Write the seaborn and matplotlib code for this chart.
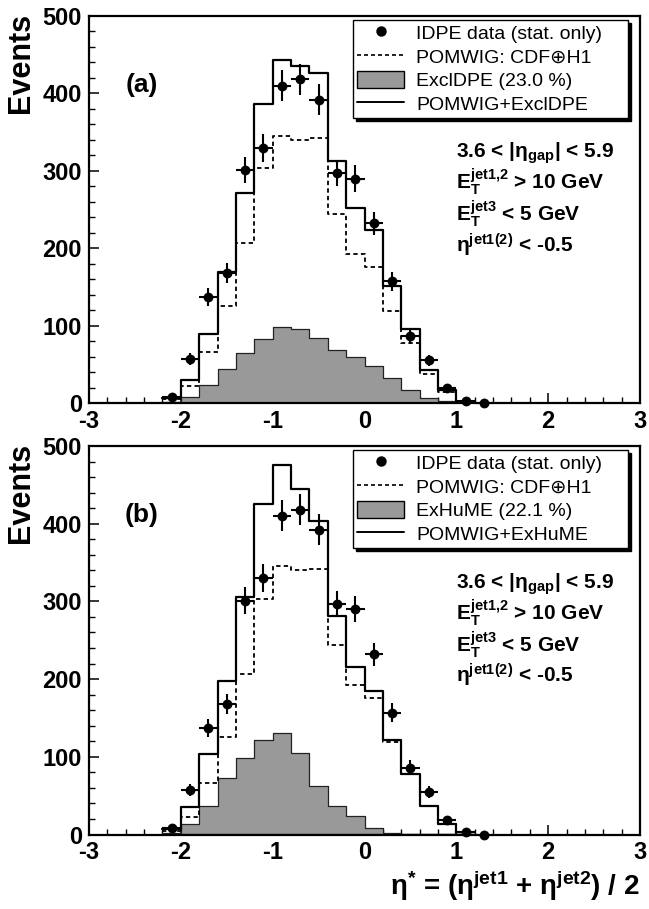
import numpy as np
import pandas as pd
import matplotlib
matplotlib.use("Agg")
import matplotlib.pyplot as plt
import seaborn as sns
from matplotlib.lines import Line2D
from matplotlib.patches import Patch
from matplotlib.ticker import MultipleLocator

# ---------------- data ----------------
bin_edges = [-2.2, -2.0, -1.8, -1.6, -1.4, -1.2, -1.0, -0.8, -0.6, -0.4,
             -0.2, 0.0, 0.2, 0.4, 0.6, 0.8, 1.0, 1.2]
bin_centers = [-2.1, -1.9, -1.7, -1.5, -1.3, -1.1, -0.9, -0.7, -0.5, -0.3,
               -0.1, 0.1, 0.3, 0.5, 0.7, 0.9, 1.1]
pomwig = [5, 22, 66, 125, 207, 303, 345, 340, 342, 244,
          192, 176, 119, 78, 37, 14, 0]
excl_dpe = [1, 8, 23, 44, 64, 83, 98, 95, 84, 69,
            60, 48, 32, 17, 6, 3, 0]
exhume = [1.5, 14, 37, 73, 99, 122, 131, 105, 62, 37,
          24, 9, 2, 0, 0, 0, 0]

data_x = [-2.1, -1.9, -1.7, -1.5, -1.3, -1.1, -0.9, -0.7, -0.5, -0.3,
          -0.1, 0.1, 0.3, 0.5, 0.7, 0.9, 1.1, 1.3]
data_y = [8, 57, 137, 168, 301, 330, 410, 418, 392, 297,
          290, 232, 157, 86, 55, 19, 3, 0]
data_err = [3, 8, 12, 13, 17, 18, 20, 20, 20, 17,
            17, 15, 12.5, 9.3, 7.4, 4.4, 1.8, 0]
data_xerr = 0.1

cuts = ["3.6 < |\u03b7$_{\\mathbf{gap}}$| < 5.9",
        "E$_{\\mathbf{T}}^{\\mathbf{jet1{,}2}}$ > 10 GeV",
        "E$_{\\mathbf{T}}^{\\mathbf{jet3}}$ < 5 GeV",
        "\u03b7$^{\\mathbf{jet1(2)}}$ < -0.5"]

panels = [
    dict(tag="(a)", signal=excl_dpe, sig_label="ExclDPE (23.0 %)",
         sum_label="POMWIG+ExclDPE"),
    dict(tag="(b)", signal=exhume, sig_label="ExHuME (22.1 %)",
         sum_label="POMWIG+ExHuME"),
]

# ---------------- style ----------------
sns.set_theme(style="ticks")
plt.rcParams["font.family"] = ["Liberation Sans", "DejaVu Sans"]
plt.rcParams["mathtext.fontset"] = "custom"
plt.rcParams["mathtext.rm"] = "Liberation Sans"
plt.rcParams["mathtext.bf"] = "Liberation Sans:bold"
plt.rcParams["mathtext.it"] = "Liberation Sans:italic"
plt.rcParams["mathtext.sf"] = "Liberation Sans"
plt.rcParams["axes.unicode_minus"] = False
plt.rcParams["text.color"] = "black"
plt.rcParams["axes.labelcolor"] = "black"
plt.rcParams["xtick.color"] = "black"
plt.rcParams["ytick.color"] = "black"
plt.rcParams["xtick.labelcolor"] = "black"
plt.rcParams["ytick.labelcolor"] = "black"

W, H = 649, 909
fig = plt.figure(figsize=(W / 100, H / 100), dpi=100)
fig.patch.set_facecolor("white")

ax_left = 89 / W
ax_width = (640 - 89) / W
ax_rects = [
    [ax_left, 1 - 403 / H, ax_width, (403 - 16) / H],
    [ax_left, 1 - 834.5 / H, ax_width, (834.5 - 446) / H],
]

GRAY = "#999999"
dash = (0, (2.4, 1.8))

for rect, p in zip(ax_rects, panels):
    ax = fig.add_axes(rect)
    ax.set_facecolor("white")
    total = [a + b for a, b in zip(pomwig, p["signal"])]

    sns.histplot(x=bin_centers, weights=p["signal"], bins=bin_edges,
                 element="step", fill=True, color=GRAY, alpha=1,
                 edgecolor="#222222", linewidth=0.9, ax=ax, zorder=1)
    sns.histplot(x=bin_centers, weights=pomwig, bins=bin_edges,
                 element="step", fill=False, color="black",
                 linestyle=dash, linewidth=1.3, ax=ax, zorder=2)
    sns.histplot(x=bin_centers, weights=total, bins=bin_edges,
                 element="step", fill=False, color="black",
                 linewidth=1.6, ax=ax, zorder=3)

    ax.errorbar(data_x, data_y, yerr=data_err, xerr=data_xerr, fmt="none",
                ecolor="black", elinewidth=1.5, capsize=0, zorder=4,
                clip_on=False)
    sns.scatterplot(x=data_x, y=data_y, color="black", s=50,
                    edgecolor="black", linewidth=0, ax=ax, zorder=5,
                    clip_on=False)

    ax.set_xlim(-3, 3)
    ax.set_ylim(0, 500)
    ax.set_xlabel("")
    ax.set_ylabel("")
    ax.xaxis.set_major_locator(MultipleLocator(1))
    ax.xaxis.set_minor_locator(MultipleLocator(0.2))
    ax.yaxis.set_major_locator(MultipleLocator(100))
    ax.yaxis.set_minor_locator(MultipleLocator(20))
    ax.tick_params(which="both", direction="in", top=False, right=False,
                   colors="black", labelcolor="black")
    ax.tick_params(which="major", length=7.5, width=1.1, pad=5,
                   labelsize=17)
    ax.tick_params(which="minor", length=4, width=1.0)
    for lab in ax.get_xticklabels() + ax.get_yticklabels():
        lab.set_fontweight("bold")
    for s in ax.spines.values():
        s.set_visible(True)
        s.set_color("black")
        s.set_linewidth(1.6)

    # y label
    ax.text(-0.124, 1.008, "Events", transform=ax.transAxes, rotation=90,
            ha="center", va="top", fontsize=22, fontweight="bold")
    # panel tag
    ax.text(0.096, 0.822, p["tag"], transform=ax.transAxes, ha="center",
            va="center", fontsize=19, fontweight="bold")
    # cut text
    for yy, line in zip([0.633, 0.553, 0.471, 0.390], cuts):
        ax.text(0.666, yy, line, transform=ax.transAxes, ha="left",
                va="baseline", fontsize=15, fontweight="bold")

    handles = [
        Line2D([], [], marker="o", color="black", linestyle="none",
               markersize=6.5),
        Line2D([], [], color="black", linestyle=dash, linewidth=1.2),
        Patch(facecolor=GRAY, edgecolor="black", linewidth=1.0),
        Line2D([], [], color="black", linewidth=1.4),
    ]
    labels = ["IDPE data (stat. only)", "POMWIG: CDF\u2295H1",
              p["sig_label"], p["sum_label"]]
    leg = ax.legend(handles, labels, loc="upper left",
                    bbox_to_anchor=(0.479, 0.718, 0.499, 0.272),
                    mode="expand", frameon=True,
                    fancybox=False, shadow={"color": "black", "alpha": 1},
                    framealpha=1, edgecolor="black", facecolor="white",
                    fontsize=14, handlelength=2.45, handletextpad=0.6,
                    labelspacing=0.22, borderpad=0.2, borderaxespad=0,
                    handleheight=1.0)
    leg.get_frame().set_linewidth(1.0)
    leg.set_zorder(10)

    if p["tag"] == "(b)":
        ax.text(1.0, -0.1326,
                "\u03b7$^{\\mathbf{*}}$ = (\u03b7$^{\\mathbf{jet1}}$ + "
                "\u03b7$^{\\mathbf{jet2}}$) / 2",
                transform=ax.transAxes, ha="right", va="center",
                fontsize=20, fontweight="bold")

fig.savefig("out.png", dpi=100, facecolor="white")
